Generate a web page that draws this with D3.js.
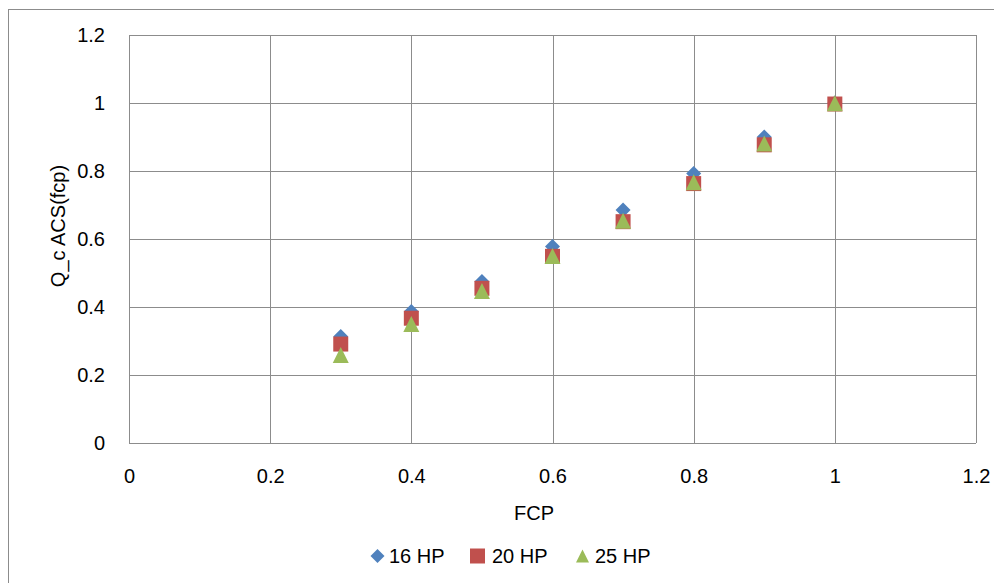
<!DOCTYPE html>
<html>
<head>
<meta charset="utf-8">
<script src="https://cdn.jsdelivr.net/npm/d3@7/dist/d3.min.js"></script>
<style>
  html, body { margin: 0; padding: 0; background: #fff; }
  svg { display: block; font-family: "Liberation Sans", Arial, sans-serif; }
</style>
</head>
<body>
<svg id="chart" width="994" height="583"></svg>
<script>
// FCP sample points
const fcp = [0.3, 0.4, 0.5, 0.6, 0.7, 0.8, 0.9, 1.0];

// Q_c ACS(fcp) for each compressor size
const hp16 = [0.313, 0.387, 0.475, 0.578, 0.685, 0.793, 0.900, 1.000];
const hp20 = [0.291, 0.367, 0.455, 0.549, 0.651, 0.763, 0.877, 0.997];
const hp25 = [0.259, 0.350, 0.447, 0.550, 0.654, 0.767, 0.881, 0.999];

const seriesNames = ["16 HP", "20 HP", "25 HP"];
const seriesColors = ["#4F81BD", "#C0504D", "#9BBB59"];

const xTicks = [0, 0.2, 0.4, 0.6, 0.8, 1.0, 1.2];
const yTicks = [0, 0.2, 0.4, 0.6, 0.8, 1.0, 1.2];

// marker shapes, centred on their bounding box (size = box width)
const shapes = {
  diamond: s => { const h = s / 2; return `M0,${-h}L${h},0L0,${h}L${-h},0Z`; },
  square: s => { const h = s / 2; return `M${-h},${-h}H${h}V${h}H${-h}Z`; },
  triangle: s => { const h = s / 2; return `M0,${-h}L${h},${h}H${-h}Z`; }
};
const seriesShapes = ["diamond", "square", "triangle"];

const svg = d3.select("#chart");
const plot = { left: 129, right: 976, top: 35, bottom: 443 };

const x = d3.scaleLinear().domain([0, 1.2]).range([plot.left, plot.right]);
const y = d3.scaleLinear().domain([0, 1.2]).range([plot.bottom, plot.top]);

// outer chart frame
svg.append("rect")
  .attr("x", 8.5).attr("y", 9.5)
  .attr("width", 1000).attr("height", 600)
  .attr("fill", "#fff").attr("stroke", "#8c8c8c").attr("stroke-width", 1);

// gridlines
const grid = svg.append("g").attr("stroke", "#8c8c8c").attr("stroke-width", 1);
grid.selectAll("line.v").data(xTicks).join("line")
  .attr("x1", d => Math.round(x(d)) + 0.5).attr("x2", d => Math.round(x(d)) + 0.5)
  .attr("y1", plot.top).attr("y2", plot.bottom);
grid.selectAll("line.h").data(yTicks).join("line")
  .attr("y1", d => Math.round(y(d)) + 0.5).attr("y2", d => Math.round(y(d)) + 0.5)
  .attr("x1", plot.left).attr("x2", plot.right);

// axes (labels only; lines drawn by the grid)
const xAxis = svg.append("g")
  .attr("transform", `translate(0,${plot.bottom})`)
  .call(d3.axisBottom(x).tickValues(xTicks).tickFormat(d3.format("")).tickSize(0).tickPadding(26));
const yAxis = svg.append("g")
  .attr("transform", `translate(${plot.left},0)`)
  .call(d3.axisLeft(y).tickValues(yTicks).tickFormat(d3.format("")).tickSize(0).tickPadding(24));
[xAxis, yAxis].forEach(a => {
  a.select(".domain").remove();
  a.selectAll("text").attr("font-size", 20).attr("fill", "#000")
    .attr("font-family", "'Liberation Sans', Arial, sans-serif");
});

// axis titles
svg.append("text")
  .attr("x", 534).attr("y", 520)
  .attr("text-anchor", "middle")
  .attr("font-size", 20).text("FCP");
svg.append("text")
  .attr("transform", "translate(65,226) rotate(-90)")
  .attr("text-anchor", "middle")
  .attr("font-size", 20).text("Q_c ACS(fcp)");

// markers
const series = [hp16, hp20, hp25];
const sizes = [15, 15, 16];
series.forEach((vals, i) => {
  svg.append("g").selectAll("path").data(fcp).join("path")
    .attr("d", shapes[seriesShapes[i]](sizes[i]))
    .attr("transform", (d, j) => `translate(${x(d)},${y(vals[j])})`)
    .attr("fill", seriesColors[i]);
});

// legend
const legendItems = [
  { sx: 377.5, tx: 389 },
  { sx: 477.5, tx: 492 },
  { sx: 582.5, tx: 595 }
];
const legendSizes = [14, 15, 13];
legendItems.forEach((it, i) => {
  svg.append("path")
    .attr("d", shapes[seriesShapes[i]](legendSizes[i]))
    .attr("transform", `translate(${it.sx},556)`)
    .attr("fill", seriesColors[i]);
  svg.append("text")
    .attr("x", it.tx).attr("y", 563)
    .attr("font-size", 20).text(seriesNames[i]);
});
</script>
</body>
</html>
